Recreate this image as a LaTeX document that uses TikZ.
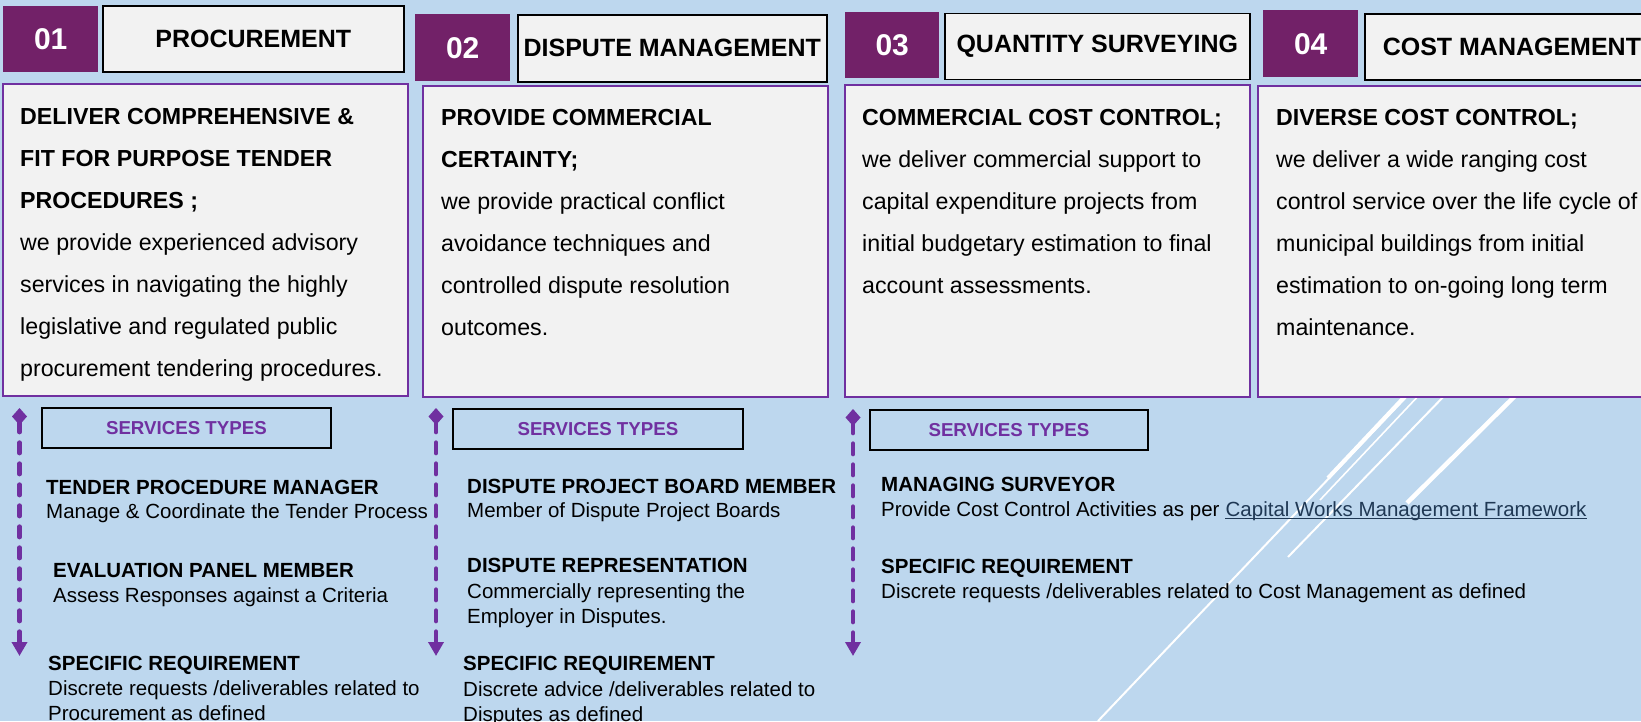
\documentclass[tikz,border=0pt]{standalone}
\usepackage{fontspec}
\setmainfont{Liberation Sans}
\usetikzlibrary{arrows.meta}
\definecolor{bgblue}{RGB}{189,215,238}
\definecolor{numpurple}{RGB}{114,33,104}
\definecolor{boxpurple}{RGB}{112,48,160}
\definecolor{paper}{RGB}{242,242,242}
\definecolor{linkblue}{RGB}{31,56,84}
\tikzset{
  numbox/.style={fill=numpurple, draw=none, anchor=north west, text=white,
    font=\fontsize{30}{33}\selectfont\bfseries, inner sep=0pt},
  titlebox/.style={fill=paper, draw=black, line width=1.5pt, anchor=north west,
    font=\fontsize{25}{29}\selectfont\bfseries, inner sep=0pt},
  contentbox/.style={fill=paper, draw=boxpurple, line width=1.8pt, anchor=north west, inner sep=0pt},
  svcbox/.style={draw=black, line width=1.8pt, anchor=north west, text=boxpurple,
    font=\fontsize{18.7}{21}\selectfont\bfseries, inner sep=0pt},
  ctext/.style={font=\fontsize{23.2}{27}\selectfont, inner sep=0pt, anchor=base west},
  itemhead/.style={font=\fontsize{20.5}{24}\selectfont\bfseries, inner sep=0pt, anchor=base west},
  itemtext/.style={font=\fontsize{20.5}{24}\selectfont, inner sep=0pt, anchor=base west},
  svcarrow/.style={draw=boxpurple, line width=4.5pt, line cap=round,
    dash pattern=on 10.5pt off 10.5pt,
    {Diamond[length=17pt,width=15pt]}-{Triangle[length=14pt,width=15pt]}},
  deco/.style={draw=white, line cap=butt}
}
\begin{document}
\begin{tikzpicture}[x=1pt,y=-1pt]
\useasboundingbox (0,0) rectangle (1641,721);
\clip (0,0) rectangle (1641,721);
\fill[bgblue] (0,0) rectangle (1641,721);

% decorative white lines
\coordinate (d1a) at (1411,392); \coordinate (d1b) at (1098,721);
\coordinate (d2a) at (1409,392); \coordinate (d2b) at (1328,478);
\coordinate (d3a) at (1422,392); \coordinate (d3b) at (1320,500);
\coordinate (d4a) at (1448,392); \coordinate (d4b) at (1288,557);
\coordinate (d5a) at (1519,392); \coordinate (d5b) at (1407,503);
\draw[deco, line width=2pt] (d1a) -- (d1b);
\draw[deco, line width=4pt] (d2a) -- (d2b);
\draw[deco, line width=1.6pt] (d3a) -- (d3b);
\draw[deco, line width=2pt] (d4a) -- (d4b);
\draw[deco, line width=4.5pt] (d5a) -- (d5b);

% column 1
\node[numbox, minimum width=95pt, minimum height=66pt] (n1) at (3,6) {01};
\node[titlebox, minimum width=301pt, minimum height=66pt] (t1) at (102,5) {PROCUREMENT};
\node[contentbox, minimum width=405pt, minimum height=312pt] (b1) at (2,83) {};
% column 2
\node[numbox, minimum width=95pt, minimum height=67pt] (n2) at (415,14) {02};
\node[titlebox, minimum width=309pt, minimum height=67pt] (t2) at (517,14) {DISPUTE MANAGEMENT};
\node[contentbox, minimum width=405pt, minimum height=311pt] (b2) at (422,85) {};
% column 3
\node[numbox, minimum width=94pt, minimum height=66pt] (n3) at (845,12) {03};
\node[titlebox, minimum width=305pt, minimum height=66pt] (t3) at (944,12.5) {QUANTITY SURVEYING};
\node[contentbox, minimum width=405pt, minimum height=312pt] (b3) at (844,84) {};
% column 4
\node[numbox, minimum width=95pt, minimum height=67pt] (n4) at (1263,10) {04};
\node[titlebox, minimum width=320pt, minimum height=66pt] (t4) at (1364,13) {};
\node[titlebox, draw=none, fill=none, anchor=base west] (t4t) at (1382,55) {COST MANAGEMENT};
\node[contentbox, minimum width=443pt, minimum height=311pt] (b4) at (1257,85) {};

% content texts
\foreach \t [count=\i] in {{\textbf{DELIVER COMPREHENSIVE \&}},{\textbf{FIT FOR PURPOSE TENDER}},{\textbf{PROCEDURES ;}},{we provide experienced advisory},{services in navigating the highly},{legislative and regulated public},{procurement tendering procedures.}}
  \node[ctext] (ca\i) at ({20},{124+42*(\i-1)}) {\t};
\foreach \t [count=\i] in {{\textbf{PROVIDE COMMERCIAL}},{\textbf{CERTAINTY;}},{we provide practical conflict},{avoidance techniques and},{controlled dispute resolution},{outcomes.}}
  \node[ctext] (cb\i) at ({441},{125+42*(\i-1)}) {\t};
\foreach \t [count=\i] in {{\textbf{COMMERCIAL COST CONTROL;}},{we deliver commercial support to},{capital expenditure projects from},{initial budgetary estimation to final},{account assessments.}}
  \node[ctext] (cc\i) at ({862},{125+42*(\i-1)}) {\t};
\foreach \t [count=\i] in {{\textbf{DIVERSE COST CONTROL;}},{we deliver a wide ranging cost},{control service over the life cycle of},{municipal buildings from initial},{estimation to on-going long term},{maintenance.}}
  \node[ctext] (cd\i) at ({1276},{125+42*(\i-1)}) {\t};

% services types boxes
\node[svcbox, minimum width=289pt, minimum height=40pt] (s1) at (41,407) {SERVICES TYPES};
\node[svcbox, minimum width=290pt, minimum height=40pt] (s2) at (452,408) {SERVICES TYPES};
\node[svcbox, minimum width=278pt, minimum height=40pt] (s3) at (869,409) {SERVICES TYPES};

% arrows
\coordinate (a1t) at (19.5,408); \coordinate (a1b) at (19.5,656);
\coordinate (a2t) at (436,408);  \coordinate (a2b) at (436,656);
\coordinate (a3t) at (853,409);  \coordinate (a3b) at (853,656);
\draw[svcarrow] (a1t) -- (a1b);
\draw[svcarrow] (a2t) -- (a2b);
\draw[svcarrow] (a3t) -- (a3b);

% column 1 services
\node[itemhead] (i1a) at (46,494) {TENDER PROCEDURE MANAGER};
\node[itemtext] (i1b) at (46,518) {Manage \& Coordinate the Tender Process};
\node[itemhead] (i1c) at (53,577) {EVALUATION PANEL MEMBER};
\node[itemtext] (i1d) at (53,602) {Assess Responses against a Criteria};
\node[itemhead] (i1e) at (48,670) {SPECIFIC REQUIREMENT};
\node[itemtext] (i1f) at (48,695) {Discrete requests /deliverables related to};
\node[itemtext] (i1g) at (48,720) {Procurement as defined};

% column 2 services
\node[itemhead] (i2a) at (467,493) {DISPUTE PROJECT BOARD MEMBER};
\node[itemtext] (i2b) at (467,517) {Member of Dispute Project Boards};
\node[itemhead] (i2c) at (467,572) {DISPUTE REPRESENTATION};
\node[itemtext] (i2d) at (467,598) {Commercially representing the};
\node[itemtext] (i2e) at (467,623) {Employer in Disputes.};
\node[itemhead] (i2f) at (463,670) {SPECIFIC REQUIREMENT};
\node[itemtext] (i2g) at (463,696) {Discrete advice /deliverables related to};
\node[itemtext] (i2h) at (463,721) {Disputes as defined};

% column 3 services
\node[itemhead] (i3a) at (881,491) {MANAGING SURVEYOR};
\node[itemtext] (i3b) at (881,516) {Provide Cost Control Activities as per};
\node[itemtext, text=linkblue, anchor=base west] (i3link) at ([xshift=5.7pt]i3b.base east) {Capital Works Management Framework};
\draw[linkblue, line width=1pt] ([yshift=-2.5pt]i3link.base west) -- ([yshift=-2.5pt]i3link.base east);
\node[itemhead] (i3c) at (881,573) {SPECIFIC REQUIREMENT};
\node[itemtext] (i3d) at (881,598) {Discrete requests /deliverables related to Cost Management as defined};
\end{tikzpicture}
\end{document}
